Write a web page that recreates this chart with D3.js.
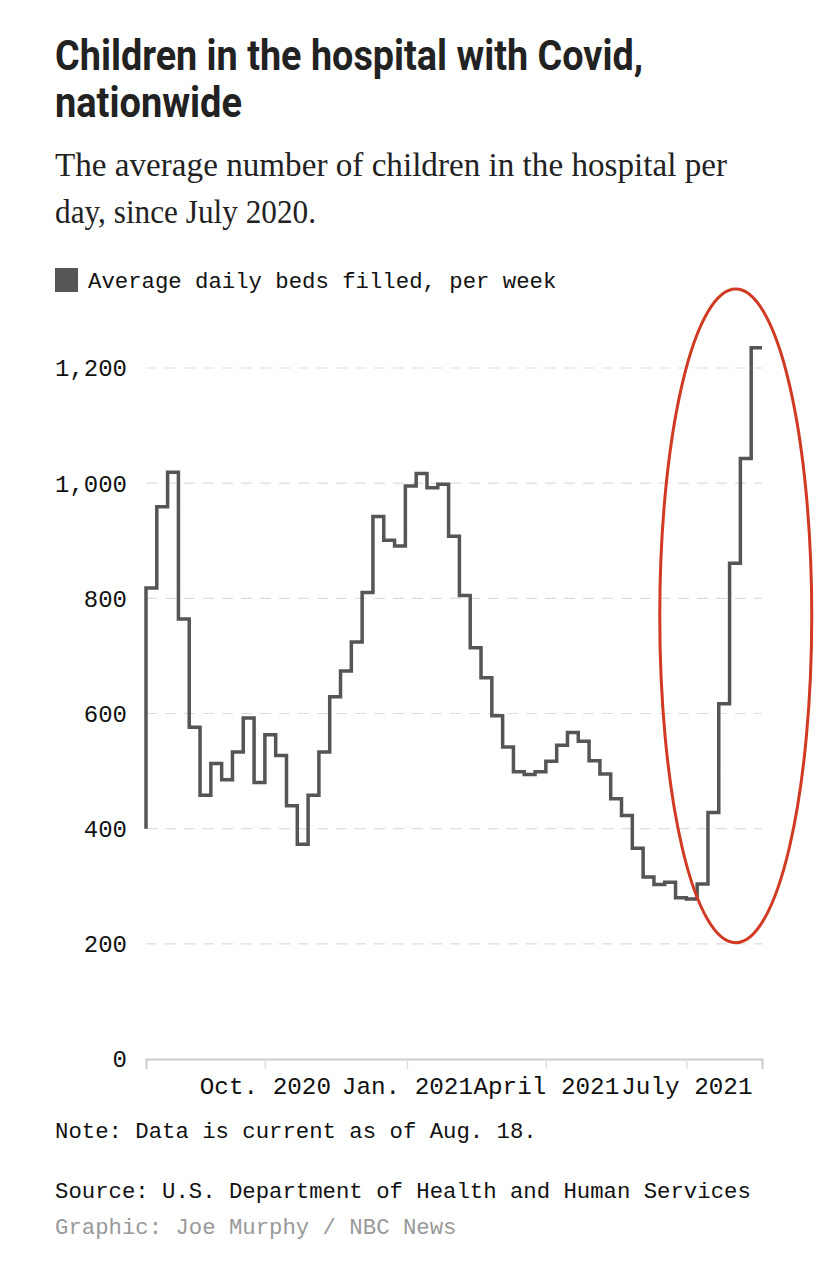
<!DOCTYPE html>
<html>
<head>
<meta charset="utf-8">
<script src="https://cdn.jsdelivr.net/npm/d3@7"></script>
<style>
  body { margin: 0; background: #fff; }
  .mono { font-family: "Liberation Mono", "DejaVu Sans Mono", monospace; }
</style>
</head>
<body>
<div class="chart"></div>
<script>
// weekly points, first one is the partial start week
const weeks = [
  "2020-07-16","2020-07-23","2020-07-30","2020-08-06","2020-08-13","2020-08-20","2020-08-27",
  "2020-09-03","2020-09-10","2020-09-17","2020-09-24","2020-10-01","2020-10-08","2020-10-15",
  "2020-10-22","2020-10-29","2020-11-05","2020-11-12","2020-11-19","2020-11-26","2020-12-03",
  "2020-12-10","2020-12-17","2020-12-24","2020-12-31","2021-01-07","2021-01-14","2021-01-21",
  "2021-01-28","2021-02-04","2021-02-11","2021-02-18","2021-02-25","2021-03-04","2021-03-11",
  "2021-03-18","2021-03-25","2021-04-01","2021-04-08","2021-04-15","2021-04-22","2021-04-29",
  "2021-05-06","2021-05-13","2021-05-20","2021-05-27","2021-06-03","2021-06-10","2021-06-17",
  "2021-06-24","2021-07-01","2021-07-08","2021-07-15","2021-07-22","2021-07-29","2021-08-05",
  "2021-08-12","2021-08-19"
];
const beds = [
  400, 818, 959, 1019, 764, 576, 458, 513, 485, 533, 592, 480, 563, 527, 440, 373, 458, 533,
  629, 674, 724, 810, 942, 901, 891, 995, 1017, 992, 998, 908, 805, 714, 662, 596, 542, 499,
  494, 499, 517, 545, 567, 552, 518, 495, 452, 423, 366, 316, 303, 307, 280, 278, 304, 428,
  617, 861, 1043, 1235
];
const tickDates = ["2020-10-01", "2021-01-01", "2021-04-01", "2021-07-01"];
const tickLabels = ["Oct. 2020", "Jan. 2021", "April 2021", "July 2021"];
const yTicks = [0, 200, 400, 600, 800, 1000, 1200];

let svgWidth = 828;
let svgHeight = 1272;

let margin = {
  top: 368,
  right: 66,
  bottom: 213,
  left: 146
};

let chartWidth = svgWidth - margin.left - margin.right;
let chartHeight = svgHeight - margin.top - margin.bottom;

let parse = d3.timeParse("%Y-%m-%d");
let data = weeks.map((d, i) => ({ date: parse(d), value: beds[i] }));

let svg = d3.select(".chart")
  .append("svg")
  .attr("width", svgWidth)
  .attr("height", svgHeight);

// title + subtitle (squeezed to mimic the condensed faces)
svg.append("text")
  .attr("x", 55).attr("y", 70)
  .attr("textLength", 588).attr("lengthAdjust", "spacingAndGlyphs")
  .style("font-family", "Roboto, sans-serif")
  .style("font-weight", 700)
  .style("font-size", "42px")
  .style("fill", "#222")
  .text("Children in the hospital with Covid,");

svg.append("text")
  .attr("x", 55).attr("y", 117)
  .attr("textLength", 187).attr("lengthAdjust", "spacingAndGlyphs")
  .style("font-family", "Roboto, sans-serif")
  .style("font-weight", 700)
  .style("font-size", "42px")
  .style("fill", "#222")
  .text("nationwide");

svg.append("text")
  .attr("x", 55).attr("y", 176)
  .attr("textLength", 672).attr("lengthAdjust", "spacingAndGlyphs")
  .style("font-family", "'Liberation Serif', serif")
  .style("font-size", "34px")
  .style("fill", "#222")
  .text("The average number of children in the hospital per");

svg.append("text")
  .attr("x", 55).attr("y", 223)
  .attr("textLength", 261).attr("lengthAdjust", "spacingAndGlyphs")
  .style("font-family", "'Liberation Serif', serif")
  .style("font-size", "34px")
  .style("fill", "#222")
  .text("day, since July 2020.");

// legend
svg.append("rect")
  .attr("x", 55).attr("y", 268)
  .attr("width", 23).attr("height", 24)
  .attr("fill", "#555");

svg.append("text")
  .attr("class", "mono")
  .attr("x", 88).attr("y", 288)
  .style("font-size", "22.3px")
  .style("fill", "#111")
  .text("Average daily beds filled, per week");

let chart = svg.append("g")
  .attr("transform", `translate(${margin.left}, ${margin.top})`);

let x = d3.scaleTime()
  .domain(d3.extent(data, d => d.date))
  .range([0, chartWidth]);

let y = d3.scaleLinear()
  .domain([0, 1200])
  .range([chartHeight, 0]);

// dashed grid
chart.selectAll(".grid")
  .data(yTicks.filter(d => d > 0))
  .enter().append("line")
    .attr("class", "grid")
    .attr("x1", 0).attr("x2", chartWidth)
    .attr("y1", d => y(d)).attr("y2", d => y(d))
    .attr("stroke", "#ddd")
    .attr("stroke-width", 1.2)
    .attr("stroke-dasharray", "11,8");

// y labels
chart.selectAll(".ylabel")
  .data(yTicks)
  .enter().append("text")
    .attr("class", "ylabel mono")
    .attr("x", -19)
    .attr("y", d => y(d))
    .attr("dy", "0.35em")
    .style("text-anchor", "end")
    .style("font-size", "24px")
    .style("fill", "#111")
    .text(d => d3.format(",")(d));

// x axis
let bottomAxis = d3.axisBottom(x)
  .tickValues(tickDates.map(parse))
  .tickFormat((d, i) => tickLabels[i])
  .tickSize(10)
  .tickSizeOuter(10)
  .tickPadding(8);

let xAxis = chart.append("g")
  .attr("transform", `translate(0, ${chartHeight})`)
  .call(bottomAxis);

xAxis.select(".domain").attr("stroke", "#ccc").attr("stroke-width", 2);
xAxis.selectAll(".tick line").attr("stroke", "#ddd").attr("stroke-width", 1.5);
xAxis.selectAll(".tick text")
  .attr("class", "mono")
  .style("font-family", "'Liberation Mono', monospace")
  .style("font-size", "24.3px")
  .style("fill", "#111");

// the line
let line = d3.line()
  .x(d => x(d.date))
  .y(d => y(d.value))
  .curve(d3.curveStepBefore);

chart.append("path")
  .datum(data)
  .attr("fill", "none")
  .attr("stroke", "#555")
  .attr("stroke-width", 3.5)
  .attr("d", line);

// red annotation ellipse around the latest surge
let ellTop = y(1337), ellBottom = y(202);
chart.append("ellipse")
  .attr("cx", x(parse("2021-08-02")))
  .attr("cy", (ellTop + ellBottom) / 2)
  .attr("rx", 76)
  .attr("ry", (ellBottom - ellTop) / 2)
  .attr("fill", "none")
  .attr("stroke", "#d13a22")
  .attr("stroke-width", 3);

// footer
svg.append("text")
  .attr("class", "mono")
  .attr("x", 55).attr("y", 1138)
  .style("font-size", "22.3px")
  .style("fill", "#111")
  .text("Note: Data is current as of Aug. 18.");

svg.append("text")
  .attr("class", "mono")
  .attr("x", 55).attr("y", 1198)
  .style("font-size", "22.3px")
  .style("fill", "#111")
  .text("Source: U.S. Department of Health and Human Services");

svg.append("text")
  .attr("class", "mono")
  .attr("x", 55).attr("y", 1234)
  .style("font-size", "22.3px")
  .style("fill", "#999")
  .text("Graphic: Joe Murphy / NBC News");
</script>
</body>
</html>
